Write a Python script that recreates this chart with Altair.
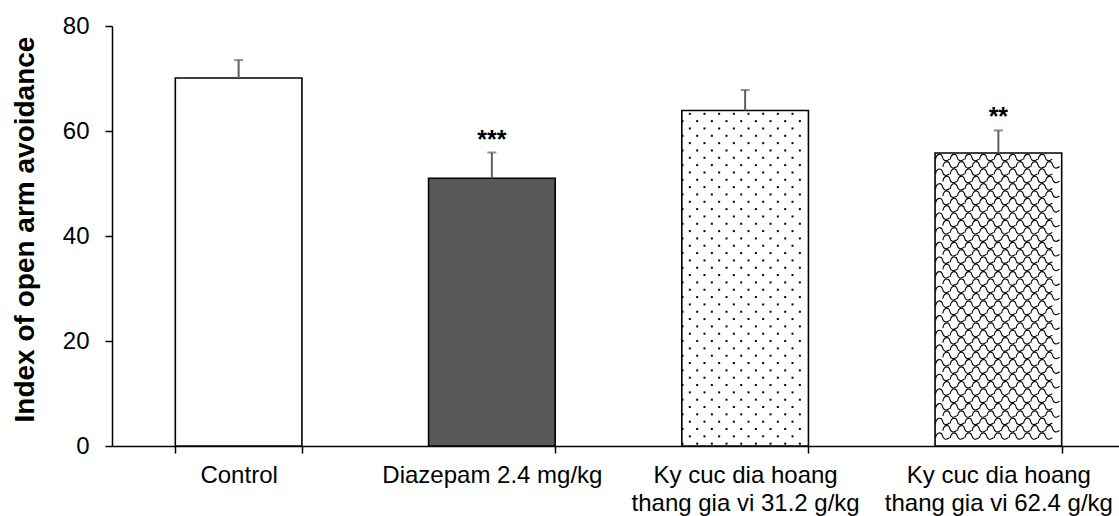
import altair as alt
import pandas as pd

# ---- data ----
groups = [
    "Control",
    "Diazepam 2.4 mg/kg",
    "Ky cuc dia hoang|thang gia vi 31.2 g/kg",
    "Ky cuc dia hoang|thang gia vi 62.4 g/kg",
]
means = [70.1, 51.0, 63.9, 55.8]
errors = [3.4, 4.9, 3.9, 4.3]
stars = ["", "***", "", "**"]
fills = ["#ffffff", "#595959", "#ffffff", "#ffffff"]
patterns = ["none", "none", "dots", "scales"]

y_label = "Index of open arm avoidance"
y_ticks = [0, 20, 40, 60, 80]

df = pd.DataFrame({
    "group": groups,
    "mean": means,
    "err": errors,
    "top": [m + e for m, e in zip(means, errors)],
    "star": stars,
    "fill": fills,
})

# ---- geometry of the drawing ----
W_RANGE = 1013.0   # band range (extends slightly beyond window, like the reference)
PLOT_W = 1007
PLOT_H = 420
px_x = W_RANGE / len(groups)
px_y = PLOT_H / 80.0
bar_px = px_x * 0.5

# texture points derived from the bar heights (fill patterns)
dot_rows, scale_rows = [], []
for i, (v, pat) in enumerate(zip(means, patterns)):
    left = i + 0.25
    h_px = v * px_y
    if pat == "dots":
        k = 0
        while True:
            ypx = 3.3 + 7.33 * k
            if ypx > h_px - 1.5:
                break
            off = 8.0 if k % 2 == 0 else 0.7
            j = 0
            while off + 14.67 * j < bar_px - 1.5:
                dot_rows.append({"x": left + (off + 14.67 * j) / px_x,
                                 "y": v - ypx / px_y})
                j += 1
            k += 1
    elif pat == "scales":
        k = 0
        while True:
            ypx = 4.0 + 7.33 * k
            if ypx > h_px - 3.5:
                break
            off = 7.5 if k % 2 == 0 else 14.8
            j = 0
            while off + 14.67 * j <= bar_px - 6.5:
                scale_rows.append({"x": left + (off + 14.67 * j) / px_x,
                                   "y": v - ypx / px_y})
                j += 1
            k += 1

dots_df = pd.DataFrame(dot_rows)
scales_df = pd.DataFrame(scale_rows)

band = alt.Scale(domain=groups, range=[0, W_RANGE], paddingInner=0.5, paddingOuter=0.25)
yscale = alt.Scale(domain=[0, 80], nice=False, zero=True)
qx = alt.Scale(domain=[0, len(groups)], range=[0, W_RANGE], nice=False, zero=True)

x_axis = alt.Axis(
    title=None,
    labelExpr="split(datum.label, '|')",
    labelAngle=0,
    labelFont="Liberation Sans",
    labelFontSize=24,
    labelColor="#000000",
    labelLineHeight=28,
    labelPadding=10,
    labelBaseline="top",
    tickBand="extent",
    tickSize=7,
    tickColor="#000000",
    tickWidth=1.5,
    domainColor="#000000",
    domainWidth=1.5,
    labelLimit=0,
)

y_axis = alt.Axis(
    title=y_label,
    values=y_ticks,
    titleFont="Liberation Sans",
    titleFontSize=28,
    titleFontWeight="bold",
    titleColor="#000000",
    titleAngle=-90,
    titleAlign="center",
    titleBaseline="alphabetic",
    titleX=-79,
    titleY=203,
    labelFont="Liberation Sans",
    labelFontSize=24,
    labelColor="#000000",
    labelPadding=16,
    tickSize=7,
    tickColor="#000000",
    tickWidth=1.5,
    domainColor="#000000",
    domainWidth=1.5,
    grid=False,
)

base = alt.Chart(df)

bars = base.mark_bar(strokeWidth=0).encode(
    x=alt.X("group:N", scale=band, axis=x_axis, sort=groups),
    y=alt.Y("mean:Q", scale=yscale, axis=y_axis),
    fill=alt.Fill("fill:N", scale=None),
)

dots = alt.Chart(dots_df).mark_square(size=4, filled=True, color="#000000", opacity=1).encode(
    x=alt.X("x:Q", scale=qx, axis=None),
    y=alt.Y("y:Q", scale=yscale),
)

scale_path = "M -1 0.35 C -0.9 -0.55 -0.1 -0.6 0 0.05 C 0.1 0.55 0.55 0.7 1 0.3"
scales = alt.Chart(scales_df).mark_point(
    shape=scale_path, size=196, filled=False, stroke="#000000", strokeWidth=1.1, opacity=1
).encode(
    x=alt.X("x:Q", scale=qx, axis=None),
    y=alt.Y("y:Q", scale=yscale),
)

outline = base.mark_bar(filled=False, stroke="#000000", strokeWidth=1.6).encode(
    x=alt.X("group:N", scale=band, axis=None, sort=groups),
    y=alt.Y("mean:Q", scale=yscale),
)

err_rule = base.mark_rule(color="#5f5f5f", strokeWidth=2).encode(
    x=alt.X("group:N", scale=band, axis=None, sort=groups),
    y=alt.Y("mean:Q", scale=yscale),
    y2="top:Q",
)

err_cap = base.mark_tick(color="#5f5f5f", size=9, thickness=2, orient="horizontal").encode(
    x=alt.X("group:N", scale=band, axis=None, sort=groups),
    y=alt.Y("top:Q", scale=yscale),
)

star_text = base.mark_text(
    font="Liberation Sans", fontSize=25, fontWeight="bold", color="#000000",
    baseline="middle", dy=-13
).encode(
    x=alt.X("group:N", scale=band, axis=None, sort=groups),
    y=alt.Y("top:Q", scale=yscale),
    text="star:N",
)

chart = alt.layer(bars, dots, scales, outline, err_rule, err_cap, star_text).resolve_scale(
    x="independent"
).properties(
    width=PLOT_W,
    height=PLOT_H,
    autosize=alt.AutoSizeParams(type="none"),
    padding={"left": 112, "top": 26, "right": 0, "bottom": 70},
    background="#ffffff",
).configure_view(stroke=None)

chart.save("out.html", embed_options={"renderer": "svg", "actions": False})
